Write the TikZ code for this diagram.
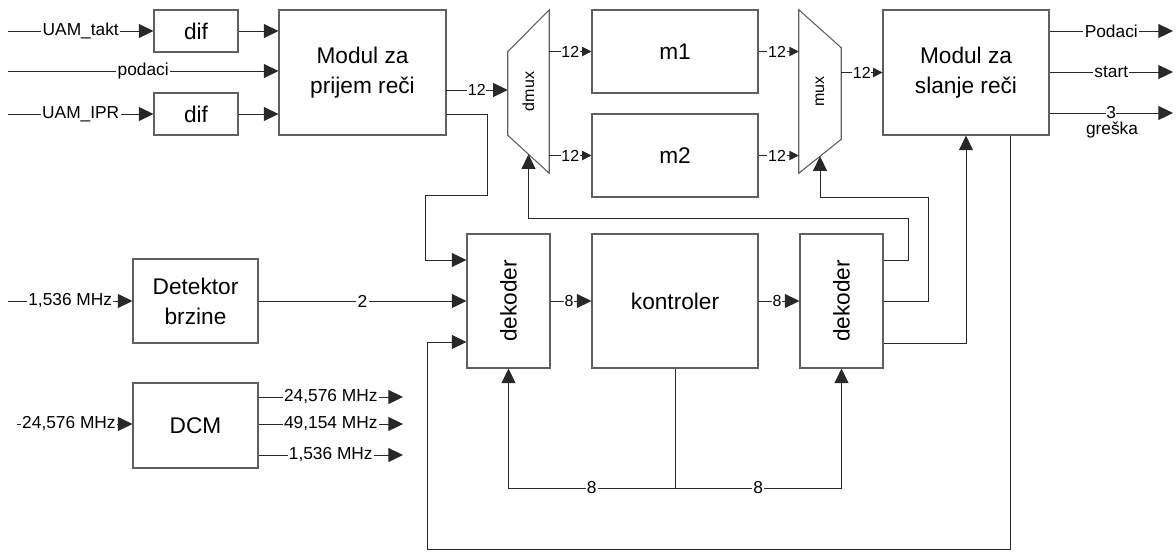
\documentclass[tikz,border=0pt]{standalone}
\usepackage{fontspec}
\setmainfont{Liberation Sans}
\usetikzlibrary{arrows.meta,positioning,calc}
\definecolor{BoxGray}{RGB}{95,95,95}
\definecolor{WireGray}{RGB}{40,40,40}
\tikzset{
  blok/.style={draw=BoxGray,line width=0.8pt,fill=white,align=center,
    font=\fontsize{17}{22.5}\selectfont,inner sep=0pt},
  trapez/.style={draw=BoxGray,line width=0.8pt},
  wire/.style={draw=WireGray,line width=0.75pt},
  arr/.style={wire,-{Triangle[length=11pt,width=10.5pt]}},
  sarr/.style={wire,-{Triangle[length=7pt,width=7pt]}},
  lbl/.style={fill=white,inner sep=1pt,font=\fontsize{13}{13}\selectfont},
  slbl/.style={fill=white,inner sep=0.5pt,font=\fontsize{12}{12}\selectfont}
}

\begin{document}
\begin{tikzpicture}[x=0.75pt,y=-0.75pt]
  \useasboundingbox (0,0) rectangle (1176,551);

  % blokovi
  \node[blok,minimum width=63pt,minimum height=31.5pt] (dif1) at (196,31) {dif};
  \node[blok,minimum width=63pt,minimum height=31.5pt] (dif2) at (196,114) {dif};
  \node[blok,minimum width=125.25pt,minimum height=93.75pt] (prijem) at (362.5,72.5) {Modul za\\prijem reči};
  \node[blok,minimum width=93.75pt,minimum height=63pt] (detektor) at (195.5,301) {Detektor\\brzine};
  \node[blok,minimum width=93.75pt,minimum height=63.75pt] (dcm) at (195.5,425.5) {DCM};
  \node[blok,minimum width=124.5pt,minimum height=62.25pt] (m1) at (675,51.5) {m1};
  \node[blok,minimum width=124.5pt,minimum height=62.25pt] (m2) at (675,155.5) {m2};
  \node[blok,minimum width=124.5pt,minimum height=93.75pt] (slanje) at (966,72.5) {Modul za\\slanje reči};
  \node[blok,minimum width=62.25pt,minimum height=100.5pt] (dek1) at (508.5,301) {\rotatebox{90}{dekoder}};
  \node[blok,minimum width=124.5pt,minimum height=100.5pt] (kontroler) at (675,301) {kontroler};
  \node[blok,minimum width=62.25pt,minimum height=100.5pt] (dek2) at (841.5,301) {\rotatebox{90}{dekoder}};

  % dmux i mux
  \node[inner sep=0pt,minimum width=30.75pt,minimum height=122.25pt,
        font=\fontsize{12}{12}\selectfont] (dmux) at (528.5,91.5) {\rotatebox{90}{dmux}};
  \draw[trapez] (dmux.north east) -- (dmux.south east)
    -- ($(dmux.south west)+(0,-38)$) -- ($(dmux.north west)+(0,42)$) -- cycle;
  \node[inner sep=0pt,minimum width=31.5pt,minimum height=122.25pt,
        font=\fontsize{12}{12}\selectfont] (mux) at (820,91.5) {\rotatebox{90}{mux}};
  \draw[trapez] (mux.north west) -- (mux.south west)
    -- ($(mux.south east)+(0,-34)$) -- ($(mux.north east)+(0,38)$) -- cycle;
  \coordinate (dmuxB) at ($(dmux.south east)!0.5!($(dmux.south west)+(0,-38)$)$);
  \coordinate (muxB) at ($(mux.south west)!0.5!($(mux.south east)+(0,-34)$)$);

  % slobodni krajevi
  \coordinate (inTakt) at (8,31);
  \coordinate (inPod) at (8,71);
  \coordinate (inIpr) at (8,114);
  \coordinate (inDet) at (8,301);
  \coordinate (inDcm) at (17,424);
  \coordinate (outPod) at (1173,31);
  \coordinate (outStart) at (1173,72);
  \coordinate (outGr) at (1173,113);
  \coordinate (outA) at (403,397);
  \coordinate (outB) at (403,424);
  \coordinate (outC) at (403,455);
  \coordinate (pr12) at (446,90);
  \coordinate (lom1) at (487,195);
  \coordinate (lom2) at (425,260);
  \coordinate (lom3) at (908,218);
  \coordinate (lom4) at (928,197);
  \coordinate (petlja) at (427,549);
  \coordinate (sab) at (675,488);

  % ulazi
  \draw[arr] (inTakt) -- node[lbl] {UAM\_takt} (dif1.west);
  \draw[arr] (inPod) -- node[lbl] {podaci} (inPod -| prijem.west);
  \draw[arr] (inIpr) -- node[lbl] {UAM\_IPR} (dif2.west);
  \draw[arr] (dif1.east) -- (dif1.east -| prijem.west);
  \draw[arr] (dif2.east) -- (dif2.east -| prijem.west);
  \draw[arr] (inDet) -- node[lbl] {1,536 MHz} (detektor.west);
  \draw[arr] (inDcm) -- node[lbl,pos=0.45] {24,576 MHz} (inDcm -| dcm.west);

  % DCM izlazi
  \draw[arr] (outA -| dcm.east) -- node[lbl] {24,576 MHz} (outA);
  \draw[arr] (outB -| dcm.east) -- node[lbl] {49,154 MHz} (outB);
  \draw[arr] (outC -| dcm.east) -- node[lbl] {1,536 MHz} (outC);

  % tok podataka
  \draw[arr] (pr12) -- node[slbl] {12} (pr12 -| dmux.west);
  \draw[sarr] (m1.west -| dmux.east) -- node[slbl] {12} (m1.west);
  \draw[sarr] (m2.west -| dmux.east) -- node[slbl] {12} (m2.west);
  \draw[sarr] (m1.east) -- node[slbl,pos=0.46] {12} (m1.east -| mux.west);
  \draw[sarr] (m2.east) -- node[slbl,pos=0.46] {12} (m2.east -| mux.west);
  \draw[sarr] (slanje.west -| mux.east) -- node[slbl] {12} (slanje.west);

  % izlazi
  \draw[arr] (slanje.east |- outPod) -- node[lbl] {Podaci} (outPod);
  \draw[arr] (slanje.east |- outStart) -- node[lbl] {start} (outStart);
  \draw[arr] (slanje.east |- outGr) -- node[lbl,inner sep=0pt] (tri) {3} (outGr);
  \node[font=\fontsize{13}{13}\selectfont,inner sep=0pt,anchor=base] (greska) at (1112,134) {greška};

  % upravljanje
  \draw[arr] ($(prijem.east)+(0,41.5)$) -| (lom1) -| (lom2) -- ($(dek1.west)+(0,-41)$);
  \draw[arr] (detektor.east) -- node[lbl] {2} (dek1.west);
  \draw[arr] (dek1.east) -- node[slbl,pos=0.45] {8} (kontroler.west);
  \draw[arr] (kontroler.east) -- node[slbl,pos=0.45] {8} (dek2.west);
  \draw[arr] ($(dek2.east)+(0,-41)$) -| (lom3) -| (dmuxB);
  \draw[arr] (dek2.east) -| (lom4) -| (muxB);
  \draw[arr] ($(dek2.east)+(0,42)$) -| (slanje.south);
  \draw[arr] ($(slanje.south)+(44,0)$) |- (petlja) |- ($(dek1.west)+(0,41)$);
  \draw[wire] (kontroler.south) -- (sab);
  \draw[arr] (sab) -| node[lbl,pos=0.25] {8} (dek1.south);
  \draw[arr] (sab) -| node[lbl,pos=0.25] {8} (dek2.south);
\end{tikzpicture}
\end{document}
